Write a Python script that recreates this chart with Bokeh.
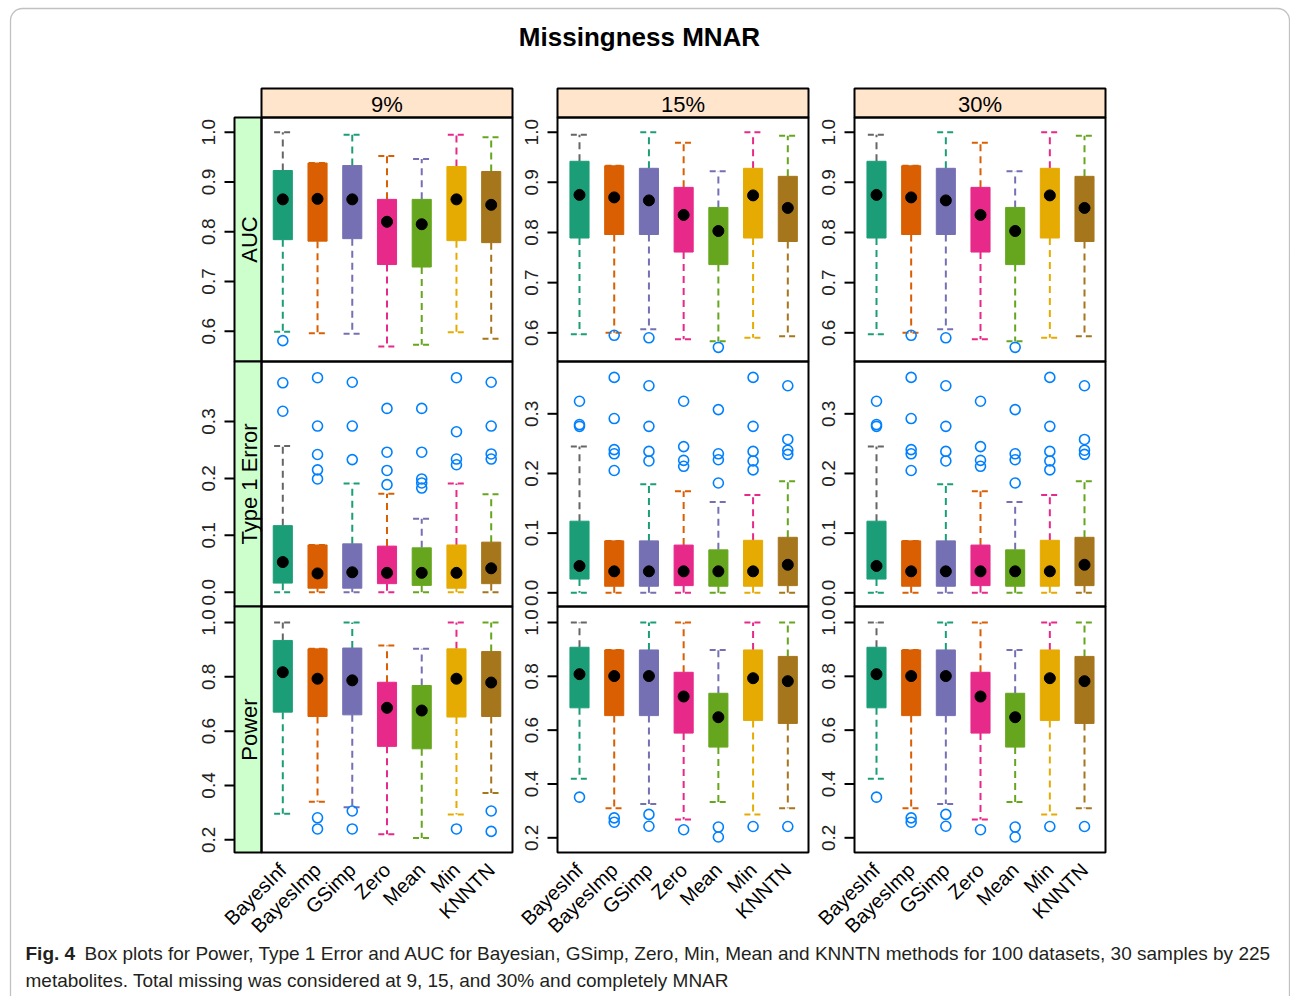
import math
from bokeh.plotting import figure
from bokeh.models import Range1d, ColumnDataSource, BoxAnnotation
from bokeh.core.properties import value
from bokeh.embed import file_html
from bokeh.resources import INLINE

# ---------------- data ----------------
methods = ["BayesInf", "BayesImp", "GSimp", "Zero", "Mean", "Min", "KNNTN"]
percent_labels = ["9%", "15%", "30%"]
metric_labels = ["AUC", "Type 1 Error", "Power"]

box_colors = ["#1B9E77", "#D95F02", "#7570B3", "#E7298A", "#66A61E", "#E6AB02", "#A6761D"]
upper_whisker_colors = ["#666666", "#D95F02", "#1B9E77", "#D95F02", "#7570B3", "#E7298A", "#66A61E"]
outlier_color = "#0080FF"

auc_ticks = [0.6, 0.7, 0.8, 0.9, 1.0]
auc_tick_labels = ["0.6", "0.7", "0.8", "0.9", "1.0"]
t1_ticks = [0.0, 0.1, 0.2, 0.3]
t1_tick_labels = ["0.0", "0.1", "0.2", "0.3"]
power_ticks = [0.2, 0.4, 0.6, 0.8, 1.0]
power_tick_labels = ["0.2", "0.4", "0.6", "0.8", "1.0"]

# AUC 9%
auc09_lo  = [0.599, 0.596, 0.595, 0.569, 0.573, 0.598, 0.585]
auc09_q1  = [0.784, 0.781, 0.786, 0.734, 0.729, 0.782, 0.778]
auc09_med = [0.865, 0.866, 0.865, 0.820, 0.815, 0.865, 0.854]
auc09_q3  = [0.923, 0.938, 0.933, 0.865, 0.865, 0.931, 0.921]
auc09_hi  = [1.000, 0.938, 0.995, 0.952, 0.946, 0.995, 0.990]
auc09_out_cat = ["BayesInf"]
auc09_out_val = [0.581]
# AUC 15%
auc15_lo  = [0.597, 0.600, 0.607, 0.587, 0.583, 0.590, 0.593]
auc15_q1  = [0.789, 0.796, 0.796, 0.761, 0.736, 0.789, 0.782]
auc15_med = [0.875, 0.870, 0.864, 0.835, 0.803, 0.874, 0.849]
auc15_q3  = [0.942, 0.933, 0.928, 0.890, 0.850, 0.928, 0.912]
auc15_hi  = [0.995, 0.933, 1.000, 0.979, 0.922, 1.000, 0.993]
auc15_out_cat = ["BayesImp", "GSimp", "Mean"]
auc15_out_val = [0.595, 0.590, 0.571]
# AUC 30%
auc30_lo  = [0.597, 0.600, 0.607, 0.587, 0.583, 0.590, 0.593]
auc30_q1  = [0.789, 0.796, 0.796, 0.761, 0.736, 0.789, 0.782]
auc30_med = [0.875, 0.870, 0.864, 0.835, 0.803, 0.874, 0.849]
auc30_q3  = [0.942, 0.933, 0.928, 0.890, 0.850, 0.928, 0.912]
auc30_hi  = [0.995, 0.933, 1.000, 0.979, 0.922, 1.000, 0.993]
auc30_out_cat = ["BayesImp", "GSimp", "Mean"]
auc30_out_val = [0.595, 0.590, 0.571]

# Type 1 Error 9%
t109_lo  = [0.0, 0.0, 0.0, 0.0, 0.0, 0.0, 0.0]
t109_q1  = [0.016, 0.007, 0.007, 0.015, 0.012, 0.007, 0.015]
t109_med = [0.053, 0.033, 0.035, 0.034, 0.034, 0.034, 0.042]
t109_q3  = [0.117, 0.083, 0.085, 0.081, 0.078, 0.083, 0.088]
t109_hi  = [0.257, 0.083, 0.191, 0.173, 0.129, 0.191, 0.172]
t109_out_cat = ["BayesInf", "BayesInf",
                "BayesImp", "BayesImp", "BayesImp", "BayesImp", "BayesImp",
                "GSimp", "GSimp", "GSimp",
                "Zero", "Zero", "Zero", "Zero",
                "Mean", "Mean", "Mean", "Mean", "Mean",
                "Min", "Min", "Min", "Min",
                "KNNTN", "KNNTN", "KNNTN", "KNNTN"]
t109_out_val = [0.318, 0.368,
                0.377, 0.292, 0.242, 0.215, 0.199,
                0.369, 0.292, 0.233,
                0.323, 0.246, 0.214, 0.189,
                0.323, 0.246, 0.199, 0.192, 0.183,
                0.377, 0.282, 0.234, 0.224,
                0.369, 0.292, 0.243, 0.234]
# Type 1 Error 15%
t115_lo  = [0.0, 0.0, 0.0, 0.0, 0.0, 0.0, 0.0]
t115_q1  = [0.023, 0.011, 0.011, 0.012, 0.011, 0.011, 0.012]
t115_med = [0.045, 0.036, 0.036, 0.036, 0.036, 0.036, 0.047]
t115_q3  = [0.120, 0.087, 0.087, 0.080, 0.072, 0.088, 0.093]
t115_hi  = [0.245, 0.087, 0.182, 0.170, 0.152, 0.164, 0.187]
t115_out_cat = ["BayesInf", "BayesInf", "BayesInf",
                "BayesImp", "BayesImp", "BayesImp", "BayesImp", "BayesImp",
                "GSimp", "GSimp", "GSimp", "GSimp",
                "Zero", "Zero", "Zero", "Zero",
                "Mean", "Mean", "Mean", "Mean",
                "Min", "Min", "Min", "Min", "Min",
                "KNNTN", "KNNTN", "KNNTN", "KNNTN"]
t115_out_val = [0.321, 0.282, 0.279,
                0.361, 0.292, 0.240, 0.233, 0.205,
                0.347, 0.279, 0.237, 0.221,
                0.321, 0.245, 0.222, 0.212,
                0.307, 0.233, 0.223, 0.184,
                0.361, 0.279, 0.237, 0.221, 0.206,
                0.347, 0.257, 0.239, 0.232]
# Type 1 Error 30%
t130_lo  = [0.0, 0.0, 0.0, 0.0, 0.0, 0.0, 0.0]
t130_q1  = [0.023, 0.011, 0.011, 0.012, 0.011, 0.011, 0.012]
t130_med = [0.045, 0.036, 0.036, 0.036, 0.036, 0.036, 0.047]
t130_q3  = [0.120, 0.087, 0.087, 0.080, 0.072, 0.088, 0.093]
t130_hi  = [0.245, 0.087, 0.182, 0.170, 0.152, 0.164, 0.187]
t130_out_cat = list(t115_out_cat)
t130_out_val = [0.321, 0.282, 0.279,
                0.361, 0.292, 0.240, 0.233, 0.205,
                0.347, 0.279, 0.237, 0.221,
                0.321, 0.245, 0.222, 0.212,
                0.307, 0.233, 0.223, 0.184,
                0.361, 0.279, 0.237, 0.221, 0.206,
                0.347, 0.257, 0.239, 0.232]

# Power 9%
pow09_lo  = [0.296, 0.340, 0.320, 0.220, 0.207, 0.293, 0.372]
pow09_q1  = [0.670, 0.654, 0.660, 0.544, 0.535, 0.652, 0.654]
pow09_med = [0.817, 0.793, 0.787, 0.686, 0.676, 0.793, 0.779]
pow09_q3  = [0.934, 0.903, 0.906, 0.780, 0.768, 0.903, 0.893]
pow09_hi  = [1.000, 0.903, 1.000, 0.915, 0.903, 1.000, 1.000]
pow09_out_cat = ["BayesImp", "BayesImp", "GSimp", "GSimp", "Min", "KNNTN", "KNNTN"]
pow09_out_val = [0.281, 0.240, 0.306, 0.240, 0.240, 0.306, 0.231]
# Power 15%
pow15_lo  = [0.419, 0.310, 0.326, 0.268, 0.333, 0.287, 0.310]
pow15_q1  = [0.683, 0.654, 0.654, 0.589, 0.537, 0.636, 0.625]
pow15_med = [0.808, 0.801, 0.801, 0.725, 0.648, 0.793, 0.782]
pow15_q3  = [0.908, 0.898, 0.898, 0.815, 0.737, 0.898, 0.874]
pow15_hi  = [1.000, 0.898, 1.000, 1.000, 0.898, 1.000, 1.000]
pow15_out_cat = ["BayesInf", "BayesImp", "BayesImp", "GSimp", "GSimp", "Zero", "Mean", "Mean", "Min", "KNNTN"]
pow15_out_val = [0.351, 0.274, 0.258, 0.287, 0.243, 0.230, 0.240, 0.203, 0.242, 0.242]
# Power 30%
pow30_lo  = [0.419, 0.310, 0.326, 0.268, 0.333, 0.287, 0.310]
pow30_q1  = [0.683, 0.654, 0.654, 0.589, 0.537, 0.636, 0.625]
pow30_med = [0.808, 0.801, 0.801, 0.725, 0.648, 0.793, 0.782]
pow30_q3  = [0.908, 0.898, 0.898, 0.815, 0.737, 0.898, 0.874]
pow30_hi  = [1.000, 0.898, 1.000, 1.000, 0.898, 1.000, 1.000]
pow30_out_cat = ["BayesInf", "BayesImp", "BayesImp", "GSimp", "GSimp", "Zero", "Mean", "Mean", "Min", "KNNTN"]
pow30_out_val = [0.351, 0.274, 0.258, 0.287, 0.243, 0.230, 0.240, 0.203, 0.242, 0.242]

title_text = "Missingness MNAR"
caption_bold = "Fig. 4"
caption_line1 = ("Box plots for Power, Type 1 Error and AUC for Bayesian, GSimp, Zero, Min, Mean and KNNTN "
                 "methods for 100 datasets, 30 samples by 225")
caption_line2 = "metabolites. Total missing was considered at 9, 15, and 30% and completely MNAR"

panels = [
    [dict(lo=auc09_lo, q1=auc09_q1, med=auc09_med, q3=auc09_q3, hi=auc09_hi, oc=auc09_out_cat, ov=auc09_out_val),
     dict(lo=auc15_lo, q1=auc15_q1, med=auc15_med, q3=auc15_q3, hi=auc15_hi, oc=auc15_out_cat, ov=auc15_out_val),
     dict(lo=auc30_lo, q1=auc30_q1, med=auc30_med, q3=auc30_q3, hi=auc30_hi, oc=auc30_out_cat, ov=auc30_out_val)],
    [dict(lo=t109_lo, q1=t109_q1, med=t109_med, q3=t109_q3, hi=t109_hi, oc=t109_out_cat, ov=t109_out_val),
     dict(lo=t115_lo, q1=t115_q1, med=t115_med, q3=t115_q3, hi=t115_hi, oc=t115_out_cat, ov=t115_out_val),
     dict(lo=t130_lo, q1=t130_q1, med=t130_med, q3=t130_q3, hi=t130_hi, oc=t130_out_cat, ov=t130_out_val)],
    [dict(lo=pow09_lo, q1=pow09_q1, med=pow09_med, q3=pow09_q3, hi=pow09_hi, oc=pow09_out_cat, ov=pow09_out_val),
     dict(lo=pow15_lo, q1=pow15_q1, med=pow15_med, q3=pow15_q3, hi=pow15_hi, oc=pow15_out_cat, ov=pow15_out_val),
     dict(lo=pow30_lo, q1=pow30_q1, med=pow30_med, q3=pow30_q3, hi=pow30_hi, oc=pow30_out_cat, ov=pow30_out_val)],
]
row_ticks = [(auc_ticks, auc_tick_labels), (t1_ticks, t1_tick_labels), (power_ticks, power_tick_labels)]

# ---------------- layout (page pixel positions) ----------------
W, H = 1290, 996
OFF = 0
FONT = "Liberation Sans"

col_left = [261, 557, 854]
col_right = [512, 808, 1105]
row_top = [117, 361, 606]
row_bottom = [361, 606, 852]
strip_top = 88
side_strip_left = 234
axis_x = [234, 557, 854]
first_cat_px = [282.3, 579.0, 876.0]
last_cat_px = [490.7, 787.3, 1084.0]
# per panel y-anchor pixels: (tick value a, pixel a, tick value b, pixel b)
y_anchor = [
    [(0.6, 330.7, 1.0, 131.7), (0.6, 332.3, 1.0, 131.7), (0.6, 332.3, 1.0, 131.7)],
    [(0.0, 591.7, 0.3, 421.0), (0.0, 592.3, 0.3, 413.3), (0.0, 592.3, 0.3, 413.3)],
    [(0.2, 839.3, 1.0, 622.0), (0.2, 837.3, 1.0, 622.0), (0.2, 837.3, 1.0, 622.0)],
]


def cx(px):
    return px - OFF


def cy(py):
    return py - OFF


def make_xrange(p1, p7):
    c1, c7 = cx(p1), cx(p7)
    k = (c7 - c1) / 6.0
    a = 1 - c1 / k
    return Range1d(start=a, end=a + W / k)


def make_yrange(ua, pa, ub, pb):
    ya, yb = cy(pa), cy(pb)
    k = (ya - yb) / (ub - ua)
    e = ub + yb / k
    return Range1d(start=e - H / k, end=e)


p = figure(width=W, height=H, x_range=Range1d(0, W), y_range=Range1d(H, 0),
           output_backend="svg", toolbar_location=None, min_border=0,
           x_axis_location=None, y_axis_location=None)
p.grid.visible = False
p.outline_line_color = None
p.background_fill_color = "white"
p.border_fill_color = "white"

for ci in range(3):
    p.extra_x_ranges[f"x{ci}"] = make_xrange(first_cat_px[ci], last_cat_px[ci])
    for ri in range(3):
        p.extra_y_ranges[f"y{ri}{ci}"] = make_yrange(*y_anchor[ri][ci])

# outer rounded border
p.add_layout(BoxAnnotation(left=cx(10), right=cx(1289), top=cy(8), bottom=H + 40, fill_alpha=0,
                           line_color="#333333", line_width=1.3, border_radius=12))

# title
p.text(x=[cx(639)], y=[cy(36)], text=[title_text], text_font=value(FONT),
       text_font_size="26px", text_font_style="bold", text_align="center",
       text_baseline="middle", text_color="black")

# strips (fills)
p.quad(left=[cx(l) for l in col_left], right=[cx(r) for r in col_right],
       top=[cy(strip_top)] * 3, bottom=[cy(row_top[0])] * 3,
       fill_color="#FFE5CC", line_color="black", line_width=2)
p.quad(left=[cx(side_strip_left)] * 3, right=[cx(col_left[0])] * 3,
       top=[cy(t) for t in row_top], bottom=[cy(b) for b in row_bottom],
       fill_color="#CCFFCC", line_color="black", line_width=2)

p.text(x=[(cx(l) + cx(r)) / 2 for l, r in zip(col_left, col_right)],
       y=[cy((strip_top + row_top[0]) / 2 + 1)] * 3, text=percent_labels,
       text_font=value(FONT), text_font_size="22px", text_align="center",
       text_baseline="middle", text_color="black")
p.text(x=[cx((side_strip_left + col_left[0]) / 2 + 1)] * 3,
       y=[cy((t + b) / 2) for t, b in zip(row_top, row_bottom)], text=metric_labels,
       angle=math.pi / 2, text_font=value(FONT), text_font_size="22px",
       text_align="center", text_baseline="middle", text_color="black")

cap_half = 0.25
box_w = 0.55
for ci in range(3):
    xr = f"x{ci}"
    for ri in range(3):
        yr = f"y{ri}{ci}"
        d = panels[ri][ci]
        xs = [methods.index(m) + 1 for m in methods]
        src = ColumnDataSource(dict(
            x=xs, lo=d["lo"], q1=d["q1"], med=d["med"], q3=d["q3"], hi=d["hi"],
            col=box_colors, ucol=upper_whisker_colors,
            cl=[x - cap_half for x in xs], cr=[x + cap_half for x in xs]))
        kw = dict(source=src, x_range_name=xr, y_range_name=yr)
        p.segment(x0="x", y0="q3", x1="x", y1="hi", line_color="ucol", line_width=2,
                  line_dash="7 5", **kw)
        p.segment(x0="cl", y0="hi", x1="cr", y1="hi", line_color="ucol", line_width=2,
                  line_dash="6 4", **kw)
        p.segment(x0="x", y0="q1", x1="x", y1="lo", line_color="col", line_width=2,
                  line_dash="7 5", **kw)
        p.segment(x0="cl", y0="lo", x1="cr", y1="lo", line_color="col", line_width=2,
                  line_dash="6 4", **kw)
        p.vbar(x="x", width=box_w, bottom="q1", top="q3", fill_color="col",
               line_color="col", line_width=1, **kw)
        p.scatter(x="x", y="med", size=11, fill_color="black", line_color="black", **kw)
        osrc = ColumnDataSource(dict(x=[methods.index(m) + 1 for m in d["oc"]], y=d["ov"]))
        p.scatter(x="x", y="y", source=osrc, marker="circle", size=10, fill_color=None,
                  line_color=outlier_color, line_width=1.6, x_range_name=xr, y_range_name=yr)

        # y axis ticks and labels
        ticks, labels = row_ticks[ri]
        ax = cx(axis_x[ci])
        p.segment(x0=[ax - 10] * len(ticks), y0=ticks, x1=[ax] * len(ticks), y1=ticks,
                  line_color="black", line_width=2, y_range_name=yr)
        p.text(x=[ax - 20] * len(ticks), y=ticks, text=labels, angle=math.pi / 2,
               text_font=value(FONT), text_font_size="19px", text_align="center",
               text_baseline="bottom", text_color="#222222", y_range_name=yr)

# panel frames
for ri in range(3):
    p.quad(left=[cx(l) for l in col_left], right=[cx(r) for r in col_right],
           top=[cy(row_top[ri])] * 3, bottom=[cy(row_bottom[ri])] * 3,
           fill_color=None, line_color="black", line_width=2)

# x tick labels
for ci in range(3):
    xs = [methods.index(m) + 1 for m in methods]
    p.text(x=xs, y=[cy(866)] * len(xs), text=methods, angle=math.pi / 4,
           text_font=value(FONT), text_font_size="20px", text_align="right",
           text_baseline="middle", text_color="black", x_range_name=f"x{ci}")

# caption
CAP_FONT = "Liberation Sans"
p.text(x=[cx(25)], y=[cy(953)], text=[caption_bold], text_font=value(CAP_FONT),
       text_font_size="19px", text_font_style="bold", text_align="left",
       text_baseline="middle", text_color="#231F20")
p.text(x=[cx(84)], y=[cy(953)], text=[caption_line1], text_font=value(CAP_FONT),
       text_font_size="19px", text_align="left", text_baseline="middle", text_color="#231F20")
p.text(x=[cx(25)], y=[cy(980)], text=[caption_line2], text_font=value(CAP_FONT),
       text_font_size="19px", text_align="left", text_baseline="middle", text_color="#231F20")

open("out.html", "w").write(file_html(p, INLINE))
